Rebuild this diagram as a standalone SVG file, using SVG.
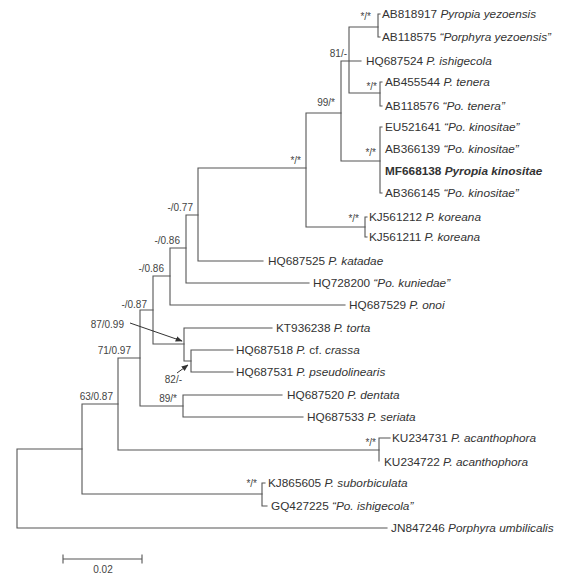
<svg xmlns="http://www.w3.org/2000/svg" width="577" height="575" viewBox="0 0 577 575">
<defs>
<style>
.br{fill:none;stroke:#555;stroke-width:1.1;stroke-linecap:square}
.lf{font-family:"Liberation Sans",Arial,sans-serif;font-size:11.8px;fill:#333}
.sp{font-family:"Liberation Sans",Arial,sans-serif;font-size:10px;fill:#444;text-anchor:end}
.it{font-style:italic}
.ar{fill:none;stroke:#333;stroke-width:1}
</style>
<marker id="ah" viewBox="0 0 10 10" refX="9" refY="5" markerWidth="7" markerHeight="7" orient="auto" markerUnits="userSpaceOnUse">
<path d="M0,1 L10,5 L0,9 Z" fill="#333"/>
</marker>
</defs>
<rect width="577" height="575" fill="#fff"/>
<g id="connectors" class="br">
<path d="M17,449V528 M17,449H82 M17,528H387"/>
<path d="M82,404V494 M82,404H118 M82,494H262"/>
<path d="M118,358V450 M118,358H140 M118,450H379"/>
<path d="M140,310V406 M140,310H153 M140,406H183"/>
<path d="M153,276V344 M153,276H170 M153,344H184"/>
<path d="M170,248V305 M170,248H186 M170,305H345"/>
<path d="M186,215V283 M186,215H198 M186,283H309"/>
<path d="M198,168V261 M198,168H306 M198,261H263"/>
<path d="M306,113V227 M306,113H341 M306,227H365"/>
<path d="M341,61V161 M341,61H361 M341,161H380"/>
<path d="M349,27V93 M349,27H378 M349,93H380"/>
<path d="M378,14V37 M378,14H380 M378,37H380"/>
<path d="M380,82V106 M380,82H382 M380,106H382"/>
<path d="M380,127V193 M380,127H382 M380,193H382"/>
<path d="M365,217V237 M365,217H367 M365,237H367"/>
<path d="M184,328V361 M184,328H272 M184,361H191"/>
<path d="M191,350V372 M191,350H233 M191,372H233"/>
<path d="M183,395V417 M183,395H282 M183,417H303"/>
<path d="M379,438V461 M379,438H390"/>
<path d="M262,483V506 M262,483H265 M262,506H267"/>
</g>
<g id="annotation-arrows">
<line class="ar" x1="130" y1="323" x2="182" y2="341" marker-end="url(#ah)"/>
<line class="ar" x1="177" y1="373" x2="188" y2="365" marker-end="url(#ah)"/>
</g>
<g id="leaves">
<g id="AB818917"><text class="lf" x="382" y="18">AB818917 <tspan class="it">Pyropia yezoensis</tspan></text></g>
<g id="AB118575"><text class="lf" x="382" y="41">AB118575 <tspan class="it">“Porphyra yezoensis”</tspan></text></g>
<g id="HQ687524"><text class="lf" x="366" y="65">HQ687524 <tspan class="it">P. ishigecola</tspan></text></g>
<g id="AB455544"><text class="lf" x="385" y="86">AB455544 <tspan class="it">P. tenera</tspan></text></g>
<g id="AB118576"><text class="lf" x="385" y="110">AB118576 <tspan class="it">“Po. tenera”</tspan></text></g>
<g id="EU521641"><text class="lf" x="385" y="131">EU521641 <tspan class="it">“Po. kinositae”</tspan></text></g>
<g id="AB366139"><text class="lf" x="385" y="153">AB366139 <tspan class="it">“Po. kinositae”</tspan></text></g>
<g id="MF668138"><text class="lf" x="385" y="175" font-weight="bold">MF668138 <tspan class="it">Pyropia kinositae</tspan></text></g>
<g id="AB366145"><text class="lf" x="385" y="197">AB366145 <tspan class="it">“Po. kinositae”</tspan></text></g>
<g id="KJ561212"><text class="lf" x="369" y="221">KJ561212 <tspan class="it">P. koreana</tspan></text></g>
<g id="KJ561211"><text class="lf" x="369" y="241">KJ561211 <tspan class="it">P. koreana</tspan></text></g>
<g id="HQ687525"><text class="lf" x="268" y="265">HQ687525 <tspan class="it">P. katadae</tspan></text></g>
<g id="HQ728200"><text class="lf" x="313" y="287">HQ728200 <tspan class="it">“Po. kuniedae”</tspan></text></g>
<g id="HQ687529"><text class="lf" x="349" y="309">HQ687529 <tspan class="it">P. onoi</tspan></text></g>
<g id="KT936238"><text class="lf" x="276" y="332">KT936238 <tspan class="it">P. torta</tspan></text></g>
<g id="HQ687518"><text class="lf" x="236" y="354">HQ687518 <tspan class="it">P.</tspan> cf. <tspan class="it">crassa</tspan></text></g>
<g id="HQ687531"><text class="lf" x="236" y="376">HQ687531 <tspan class="it">P. pseudolinearis</tspan></text></g>
<g id="HQ687520"><text class="lf" x="287" y="399">HQ687520 <tspan class="it">P. dentata</tspan></text></g>
<g id="HQ687533"><text class="lf" x="307" y="421">HQ687533 <tspan class="it">P. seriata</tspan></text></g>
<g id="KU234731"><text class="lf" x="392" y="442">KU234731 <tspan class="it">P. acanthophora</tspan></text></g>
<g id="KU234722"><text class="lf" x="384" y="466">KU234722 <tspan class="it">P. acanthophora</tspan></text></g>
<g id="KJ865605"><text class="lf" x="268" y="487">KJ865605 <tspan class="it">P. suborbiculata</tspan></text></g>
<g id="GQ427225"><text class="lf" x="271" y="510">GQ427225 <tspan class="it">“Po. ishigecola”</tspan></text></g>
<g id="JN847246"><text class="lf" x="391" y="532">JN847246 <tspan class="it">Porphyra umbilicalis</tspan></text></g>
</g>
<g id="supports">
<text class="sp" x="371" y="20">*/*</text>
<text class="sp" x="347" y="57">81/-</text>
<text class="sp" x="377" y="90">*/*</text>
<text class="sp" x="335" y="106">99/*</text>
<text class="sp" x="376" y="156">*/*</text>
<text class="sp" x="301" y="164">*/*</text>
<text class="sp" x="359" y="222">*/*</text>
<text class="sp" x="193" y="211">-/0.77</text>
<text class="sp" x="180" y="244">-/0.86</text>
<text class="sp" x="164" y="272">-/0.86</text>
<text class="sp" x="147" y="308">-/0.87</text>
<text class="sp" x="124" y="328">87/0.99</text>
<text class="sp" x="131" y="354">71/0.97</text>
<text class="sp" x="182" y="383">82/-</text>
<text class="sp" x="177" y="402">89/*</text>
<text class="sp" x="113" y="400">63/0.87</text>
<text class="sp" x="376" y="446">*/*</text>
<text class="sp" x="257" y="487">*/*</text>
</g>
<g id="scale-bar">
<path class="br" d="M63,559H142 M63,555V563 M142,555V563"/>
<text class="sp" x="103" y="573" text-anchor="middle" style="text-anchor:middle">0.02</text>
</g>
</svg>
